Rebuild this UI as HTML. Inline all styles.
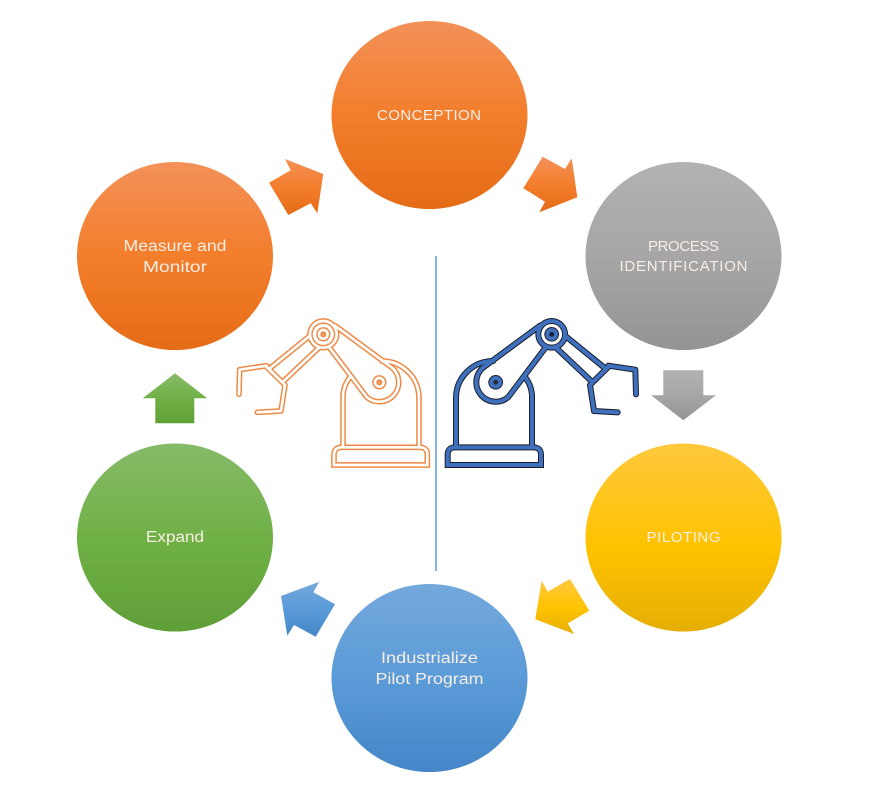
<!DOCTYPE html>
<html lang="en">
<head>
<meta charset="utf-8">
<title>Robotic process cycle</title>
<style>
html,body{margin:0;padding:0;background:#fff;width:888px;height:804px;overflow:hidden}
svg{display:block}
text{font-family:"Liberation Sans",sans-serif;font-size:15.5px;fill:#f8eee6;text-anchor:middle}
text.c{font-size:15px}
</style>
</head>
<body>
<svg width="888" height="804" viewBox="0 0 888 804" xmlns="http://www.w3.org/2000/svg">
<defs>
<linearGradient id="o" x1="0" y1="0" x2="0" y2="1"><stop offset="0" stop-color="#f39159"/><stop offset=".5" stop-color="#f37e2b"/><stop offset="1" stop-color="#e56c17"/></linearGradient>
<linearGradient id="g" x1="0" y1="0" x2="0" y2="1"><stop offset="0" stop-color="#b2b2b2"/><stop offset=".5" stop-color="#a6a6a6"/><stop offset="1" stop-color="#949494"/></linearGradient>
<linearGradient id="y" x1="0" y1="0" x2="0" y2="1"><stop offset="0" stop-color="#ffc83c"/><stop offset=".55" stop-color="#ffc300"/><stop offset="1" stop-color="#e5ae05"/></linearGradient>
<linearGradient id="b" x1="0" y1="0" x2="0" y2="1"><stop offset="0" stop-color="#74a8dc"/><stop offset=".5" stop-color="#5b9bd8"/><stop offset="1" stop-color="#4486c8"/></linearGradient>
<linearGradient id="n" x1="0" y1="0" x2="0" y2="1"><stop offset="0" stop-color="#86ba69"/><stop offset=".5" stop-color="#70b146"/><stop offset="1" stop-color="#5f9f37"/></linearGradient>
<g id="robot" fill="none" stroke-linecap="round" stroke-linejoin="round">
<path stroke-linejoin="miter" stroke-linecap="butt" d="M327 480 L327 450 Q327 427 350 427 L585 427 Q607 427 607 450 L607 480 Z"/>
<path d="
M354 425 L354 270 Q356 240 376 215
M470 168 C530 168 582 215 582 280 L582 425
M330 62 L501 188 A58 58 0 0 1 425 276 L315 130
M255 92 L132 192 L172 232 L282 128
M295 48 A40 40 0 1 1 294.9 48 Z
M295 75 A13 13 0 1 1 294.9 75 Z
M463 219 A13 13 0 1 1 462.9 219 Z
M125 182 L44 194 L42 268
M125 186 L180 240 L168 318 L97 322"/>
</g>
</defs>

<line x1="436" y1="256" x2="436" y2="571" stroke="#5b9bd5" stroke-width="1.5"/>

<ellipse cx="429.5" cy="115" rx="98" ry="94" fill="url(#o)"/>
<ellipse cx="175" cy="256" rx="98" ry="94" fill="url(#o)"/>
<ellipse cx="683.5" cy="256" rx="98" ry="94" fill="url(#g)"/>
<ellipse cx="683.5" cy="537.5" rx="98" ry="94" fill="url(#y)"/>
<ellipse cx="175" cy="537.5" rx="98" ry="94" fill="url(#n)"/>
<ellipse cx="429.5" cy="678" rx="98" ry="94" fill="url(#b)"/>

<polygon fill="url(#o)" points="285,159 323.3,174 317.3,213.3 310.7,203.3 288.3,215 269,182.7 290.7,170.3"/>
<polygon fill="url(#o)" points="542.7,156.7 565,169 571.7,158.3 577.3,197.3 539.3,212.3 545,201.7 523.3,188.3"/>
<polygon fill="url(#g)" points="663.3,370.3 703.3,370.3 703.3,395.3 716,395.3 683.3,420.3 651,395.3 663.3,395.3"/>
<polygon fill="url(#y)" points="541.7,580.7 547.7,591.7 570,579 589.3,610.7 567.7,623.3 574,634 535.3,619.3"/>
<polygon fill="url(#b)" points="319.3,581.7 313.3,592.3 335,604.3 315.7,636.7 294,625 287.3,635.7 281,596"/>
<polygon fill="url(#n)" points="175,373.3 207.3,398.3 194.3,398.3 194.3,423.3 155.3,423.3 155.3,398.3 142.7,398.3"/>

<g transform="translate(225 305) scale(.33333)">
<use href="#robot" stroke="#ee8a45" stroke-width="17"/>
<use href="#robot" stroke="#fff" stroke-width="8"/>
<circle cx="295" cy="88" r="4" fill="#ee8a45"/>
<circle cx="463" cy="232" r="4" fill="#ee8a45"/>
</g>
<g transform="translate(875 0) scale(-1 1) translate(225 305) scale(.33333)">
<use href="#robot" stroke="#1a1f2b" stroke-width="18"/>
<use href="#robot" stroke="#3f70bd" stroke-width="12"/>
<circle cx="295" cy="88" r="6" fill="#1a1f2b"/>
<circle cx="463" cy="232" r="4" fill="#1a1f2b"/>
</g>

<text class="c" x="429" y="120" textLength="104">CONCEPTION</text>
<text x="175" y="251" textLength="103" lengthAdjust="spacingAndGlyphs">Measure and</text>
<text x="175" y="272" textLength="64" lengthAdjust="spacingAndGlyphs">Monitor</text>
<text class="c" x="683.5" y="251" textLength="71">PROCESS</text>
<text class="c" x="683.5" y="271" textLength="128">IDENTIFICATION</text>
<text class="c" x="683.5" y="542" textLength="74">PILOTING</text>
<text x="175" y="542" textLength="58" lengthAdjust="spacingAndGlyphs">Expand</text>
<text x="429.5" y="663" textLength="97" lengthAdjust="spacingAndGlyphs">Industrialize</text>
<text x="429.5" y="684" textLength="108" lengthAdjust="spacingAndGlyphs">Pilot Program</text>
</svg>
</body>
</html>
